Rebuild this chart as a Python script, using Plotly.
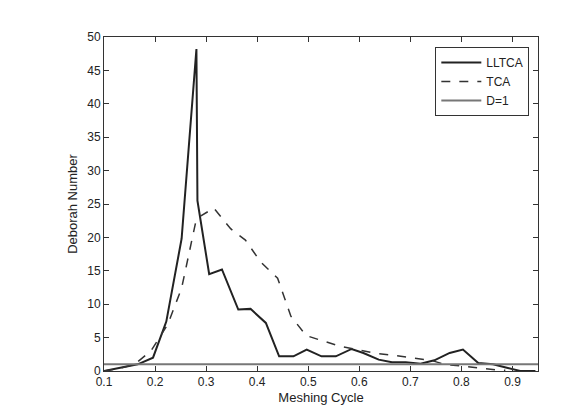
import plotly.graph_objects as go

llt_x = [0.1,0.133,0.166,0.196,0.222,0.252,0.281,0.283,0.306,0.331,0.363,0.387,0.417,0.443,0.471,0.497,0.526,0.554,0.585,0.608,0.638,0.664,0.691,0.72,0.747,0.777,0.803,0.833,0.862,0.889,0.915,0.945]
llt_y = [0,0.5,1,2,7.4,19.8,48.2,25.5,14.5,15.2,9.2,9.3,7.2,2.2,2.2,3.2,2.2,2.2,3.3,2.7,1.7,1.3,1.3,1.1,1.6,2.7,3.2,1.2,1,0.5,0,0]
tca_x = [0.1,0.13,0.16,0.192,0.225,0.252,0.281,0.315,0.348,0.377,0.407,0.44,0.466,0.496,0.529,0.562,0.595,0.628,0.661,0.7,0.74,0.767,0.8,0.833,0.866,0.886]
tca_y = [0,0.4,1,3,7,12.4,22.8,24.4,21.3,19.6,16.3,13.9,8.2,5.3,4.5,3.7,3.2,2.7,2.4,2,1.6,1,0.7,0.5,0.2,0.1]
d_x = [0.1,0.95]
d_y = [1,1]

fig = go.Figure()
fig.add_trace(go.Scatter(x=llt_x, y=llt_y, mode="lines", name="LLTCA", line=dict(color="#222", width=2)))
fig.add_trace(go.Scatter(x=tca_x, y=tca_y, mode="lines", name="TCA", line=dict(color="#333", width=1.5, dash="dash")))
fig.add_trace(go.Scatter(x=d_x, y=d_y, mode="lines", name="D=1", line=dict(color="#777", width=2)))

ax = dict(showline=True, linecolor="#333", mirror="ticks", ticks="inside", ticklen=5, tickcolor="#333",
          showgrid=False, zeroline=False, tickfont=dict(size=12, color="#222"), automargin=False)
fig.update_layout(
    width=571, height=415, margin=dict(l=96, r=41, t=29, b=52),
    paper_bgcolor="white", plot_bgcolor="white",
    font=dict(family="Liberation Sans, Arial", color="#222"),
    xaxis=dict(ax, range=[0.1,0.95], tickvals=[0.1,0.2,0.3,0.4,0.5,0.6,0.7,0.8,0.9], tickformat=".1f",
               title=dict(text="Meshing Cycle", font=dict(size=13), standoff=4)),
    yaxis=dict(ax, range=[0,50], dtick=5, title=dict(text="Deborah Number", font=dict(size=13), standoff=6)),
    legend=dict(x=0.98, y=0.97, xanchor="right", yanchor="top", bordercolor="#333", borderwidth=1,
                bgcolor="white", font=dict(size=12), tracegroupgap=0, itemwidth=40),
    showlegend=True,
)
fig.write_html("out.html")
